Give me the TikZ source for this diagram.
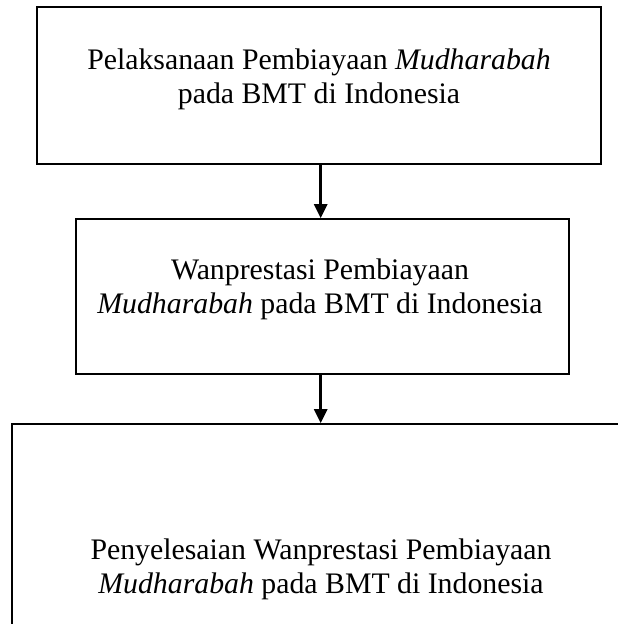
\documentclass[tikz,border=0pt]{standalone}
\usepackage{fontspec}
\setmainfont{Liberation Serif}
\usetikzlibrary{arrows.meta}
\begin{document}
\begin{tikzpicture}[x=1pt,y=-1pt,
  boxframe/.style={draw=black,line width=1.7pt,rectangle,inner sep=0pt},
  boxtext/.style={align=center,inner sep=0pt,font=\fontsize{29.8}{34.3}\selectfont},
  flowarrow/.style={line width=2.6pt,-{Triangle[width=13pt,length=14pt]}}]
\useasboundingbox (0,0) rectangle (618,624);
\clip (0,0) rectangle (618,624);
\node[boxframe,minimum width=564pt,minimum height=157pt] (box1) at (319,85.5) {};
\node[boxframe,minimum width=493pt,minimum height=155pt] (box2) at (322.5,296.5) {};
\node[boxframe,minimum width=618pt,minimum height=230pt] (box3) at (321,539) {};
\node[boxtext] (t1) at (319,79) {Pelaksanaan Pembiayaan \textit{Mudharabah}\\pada BMT di Indonesia};
\node[boxtext] (t2) at (320,289) {Wanprestasi Pembiayaan\\\textit{Mudharabah} pada BMT di Indonesia};
\node[boxtext] (t3) at (321,569) {Penyelesaian Wanprestasi Pembiayaan\\\textit{Mudharabah} pada BMT di Indonesia};
\coordinate (ax) at (320.7,0);
\draw[flowarrow] (box1.south -| ax) -- (box2.north -| ax);
\draw[flowarrow] (box2.south -| ax) -- (box3.north -| ax);
\end{tikzpicture}
\end{document}
